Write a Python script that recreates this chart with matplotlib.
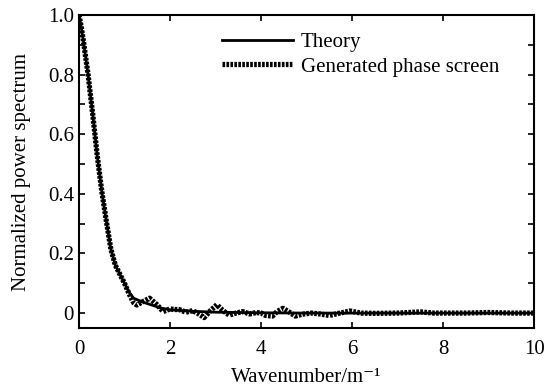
import matplotlib
matplotlib.use("Agg")
import matplotlib.pyplot as plt
from matplotlib.ticker import MultipleLocator

plt.rcParams['font.family'] = ['Liberation Serif', 'DejaVu Serif']

# Theory curve
k_theory = [0.0, 0.05, 0.1, 0.2, 0.3, 0.4, 0.5, 0.6, 0.7, 0.8, 0.9, 1.0, 1.1, 1.2,
            1.4, 1.6, 1.8, 2.0, 2.5, 3.0, 4.0, 5.0, 6.0, 8.0, 10.0]
v_theory = [1.0, 0.96, 0.91, 0.80, 0.67, 0.53, 0.41, 0.31, 0.215, 0.16, 0.13, 0.10, 0.07, 0.05,
            0.037, 0.027, 0.017, 0.011, 0.006, 0.003, 0.001, 0.0, 0.0, 0.0, 0.0]

# Generated phase screen spectrum
k_gen = [0.0, 0.05, 0.1, 0.2, 0.3, 0.4, 0.5, 0.6, 0.7, 0.8, 0.9, 1.0, 1.1, 1.2, 1.27,
         1.4, 1.55, 1.7, 1.85, 2.0, 2.1, 2.2, 2.35, 2.5, 2.6, 2.75, 2.9, 3.03, 3.15,
         3.3, 3.45, 3.6, 3.75, 3.9, 4.0, 4.1, 4.25, 4.35, 4.48, 4.6, 4.75, 4.9, 5.1,
         5.3, 5.5, 5.7, 5.95, 6.2, 6.5, 7.0, 7.5, 7.8, 8.5, 9.0, 9.5, 10.0]
v_gen = [1.0, 0.96, 0.91, 0.80, 0.67, 0.53, 0.41, 0.31, 0.215, 0.16, 0.13, 0.10, 0.065, 0.035, 0.027,
         0.038, 0.05, 0.03, 0.005, 0.014, 0.012, 0.012, 0.003, 0.008, 0.0, -0.015, 0.01, 0.028, 0.01,
         -0.007, 0.0, 0.005, -0.003, 0.002, 0.0, -0.008, -0.01, 0.005, 0.016, 0.005, -0.01, -0.004, 0.0,
         -0.003, -0.008, -0.001, 0.007, 0.0, -0.001, 0.0, 0.004, 0.0, 0.0, 0.002, 0.0, 0.0]

FS = 15

fig = plt.figure(figsize=(5.6, 3.9), dpi=100)
ax = fig.add_axes([0.141, 0.159, 0.813, 0.8025])

ax.plot(k_theory, v_theory, color='black', lw=2.0, label='Theory')
ax.plot(k_gen, v_gen, color='black', lw=3.8, linestyle=(0, (0.5, 0.25)),
        label='Generated phase screen')

ax.set_xlim(0, 10)
ax.set_ylim(-0.05, 1.0)
ax.set_xticks([0, 2, 4, 6, 8, 10])
ax.set_xticklabels(['0', '2', '4', '6', '8', '10'])
ax.set_yticks([0, 0.2, 0.4, 0.6, 0.8, 1.0])
ax.set_yticklabels(['0', '0.2', '0.4', '0.6', '0.8', '1.0'])
ax.yaxis.set_minor_locator(MultipleLocator(0.1))
ax.tick_params(which='both', direction='in', top=True, right=True, labelsize=FS,
               width=1.2, length=4)
ax.tick_params(axis='x', pad=9)
for s in ax.spines.values():
    s.set_linewidth(1.5)

ax.set_xlabel('Wavenumber/m\u207b\u00b9', fontsize=FS, labelpad=6)
ax.set_ylabel('Normalized power spectrum', fontsize=FS, labelpad=12)

ax.legend(loc='upper left', bbox_to_anchor=(0.314, 0.945), frameon=False, fontsize=FS,
          handlelength=3.4, labelspacing=0.25, handletextpad=0.4,
          borderpad=0, borderaxespad=0)

fig.savefig('out.png', dpi=100)
